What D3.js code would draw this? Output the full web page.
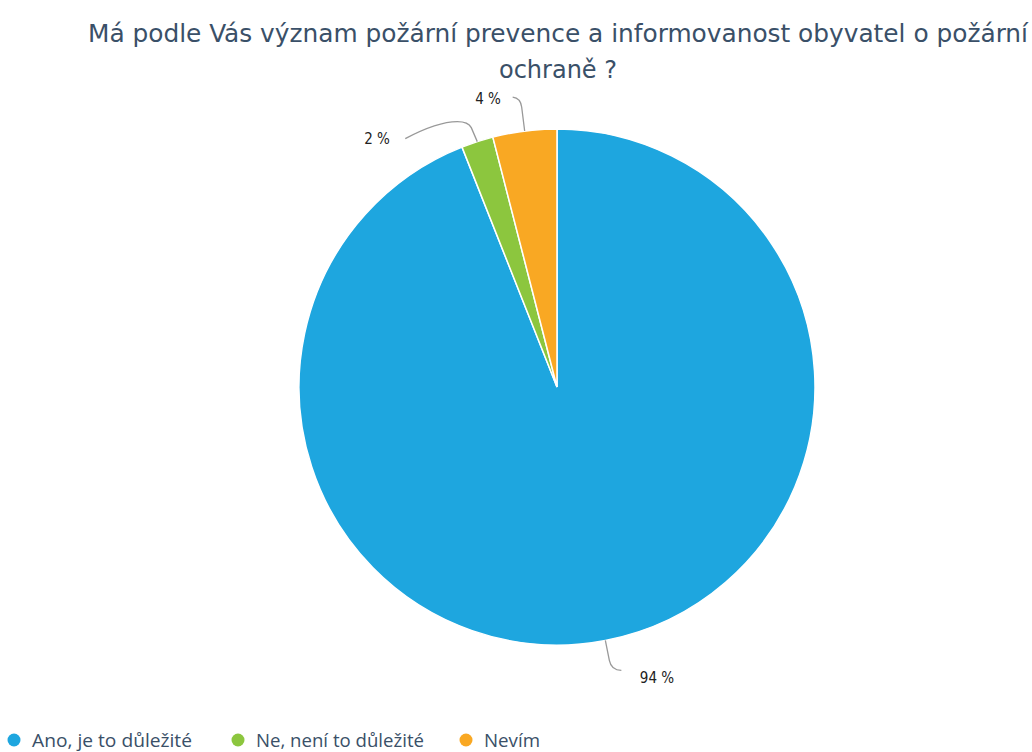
<!DOCTYPE html>
<html><head><meta charset="utf-8">
<script src="https://cdn.jsdelivr.net/npm/d3@7"></script>
<style>body{margin:0;background:#fff}</style>
</head><body>
<svg id="c" width="1032" height="752"></svg>
<script>
const categories = ["Ano, je to důležité", "Ne, není to důležité", "Nevím"];
const values = [94, 2, 4];
const labels = ["94 %", "2 %", "4 %"];
const colors = ["#1ea6df", "#8cc63e", "#f9a823"];
const title = ["Má podle Vás význam požární prevence a informovanost obyvatel o požární", "ochraně ?"];

const svg = d3.select("#c");
const cx = 557, cy = 387, r = 258;

const titleLen = [940, 118];
svg.append("g").selectAll("text").data(title).join("text")
  .attr("x", 558).attr("y", (d, i) => 42 + i * 36).attr("text-anchor", "middle")
  .attr("font-family", "DejaVu Sans Condensed, DejaVu Sans").attr("font-size", 25).attr("fill", "#3a5068")
  .attr("textLength", (d, i) => titleLen[i]).attr("lengthAdjust", "spacingAndGlyphs")
  .text(d => d);

const pie = d3.pie().sort(null).value(d => d)(values);
const arc = d3.arc().innerRadius(0).outerRadius(r);
const g = svg.append("g").attr("transform", `translate(${cx},${cy})`);
g.selectAll("path").data(pie).join("path")
  .attr("d", arc).attr("fill", (d, i) => colors[i])
  .attr("stroke", "#fff").attr("stroke-width", 1.5);

// leader lines and labels
const outer = d3.arc().innerRadius(r).outerRadius(r);
const labelCfg = [
  {tx: 100, ty: 296},
  {tx: -180, ty: -243},
  {tx: -69, ty: -283}
];
pie.forEach((d, i) => {
  const [px, py] = outer.centroid(d);
  const c = labelCfg[i];
  let path;
  if (i === 0) {
    path = `M${px},${py} L${px + 4},${py + 20} Q${px + 6},${py + 30} ${px + 16},${py + 30}`;
  } else if (i === 1) {
    path = `M${px},${py} L${px - 6},${py - 14} Q${px - 9},${py - 20} ${px - 20},${py - 20} Q${px - 40},${py - 20} ${px - 72},${py - 3}`;
  } else {
    path = `M${px},${py} L${px - 3},${py - 24} Q${px - 4},${py - 33} ${px - 12},${py - 34}`;
  }
  g.append("path").attr("d", path).attr("fill", "none").attr("stroke", "#999").attr("stroke-width", 1.3);
  g.append("text").attr("x", c.tx).attr("y", c.ty).attr("text-anchor", "middle")
    .attr("font-family", "DejaVu Sans Condensed, DejaVu Sans").attr("font-size", 15).attr("fill", "#222").text(labels[i]);
});

// legend
const legX = [14, 238, 466];
const legLen = [160, 168, 56];
const lg = svg.append("g");
categories.forEach((cat, i) => {
  lg.append("circle").attr("cx", legX[i]).attr("cy", 740).attr("r", 6.5).attr("fill", colors[i]);
  lg.append("text").attr("x", legX[i] + 18).attr("y", 747).attr("font-family", "Open Sans")
    .attr("font-size", 18).attr("fill", "#3a5068")
    .attr("textLength", legLen[i]).attr("lengthAdjust", "spacingAndGlyphs").text(cat);
});
</script>
</body></html>
